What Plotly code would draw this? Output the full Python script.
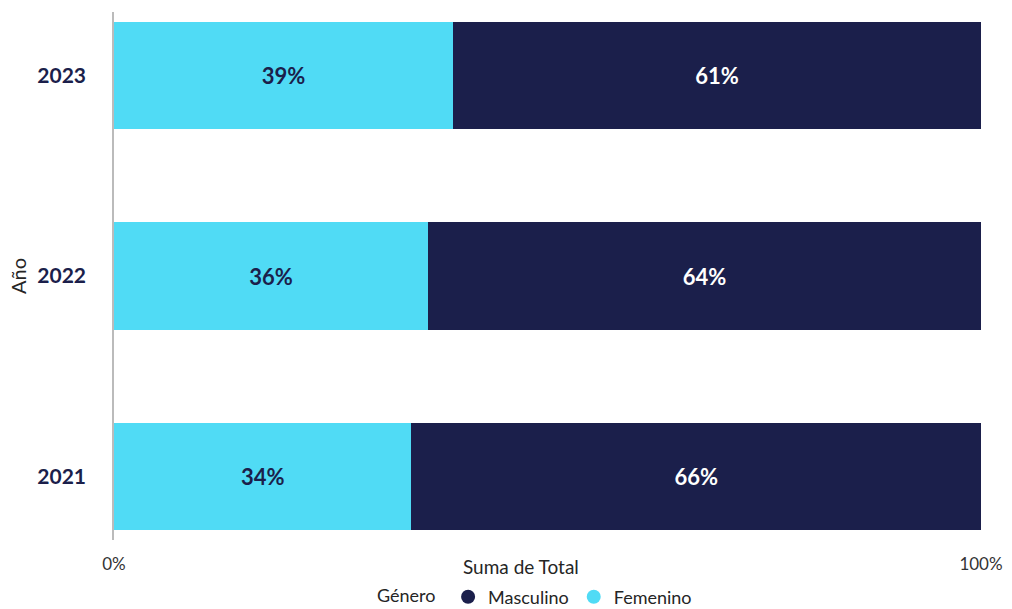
import plotly.graph_objects as go

years = ["2021", "2022", "2023"]
femenino = [34.3, 36.2, 39.1]
masculino = [65.7, 63.8, 60.9]
x_tick_vals = [0, 100]
x_tick_text = ["0%", "100%"]

CYAN = "#50DBF5"
NAVY = "#1B1F4B"
FONT = "Lato, 'Open Sans', sans-serif"
TXT = "#252525"

fig = go.Figure()
fig.add_trace(go.Bar(
    y=years, x=femenino, name="Femenino", orientation="h",
    marker=dict(color=CYAN, line=dict(width=0)), width=0.535,
    text=[f"{v:.0f}%" for v in femenino], textposition="inside",
    insidetextanchor="middle",
    textfont=dict(color=NAVY, size=22, family=FONT, weight="bold"),
    showlegend=False, hoverinfo="skip",
))
fig.add_trace(go.Bar(
    y=years, x=masculino, name="Masculino", orientation="h",
    marker=dict(color=NAVY, line=dict(width=0)), width=0.535,
    text=[f"{v:.0f}%" for v in masculino], textposition="inside",
    insidetextanchor="middle",
    textfont=dict(color="white", size=22, family=FONT, weight="bold"),
    showlegend=False, hoverinfo="skip",
))
# legend entries with circle symbols
for nm, col in [("Masculino", NAVY), ("Femenino", CYAN)]:
    fig.add_trace(go.Scatter(
        x=[None], y=[None], mode="markers", name=nm,
        marker=dict(symbol="circle", size=14, color=col), showlegend=True,
    ))

fig.update_layout(
    barmode="stack",
    width=1012, height=609,
    margin=dict(l=114, r=31, t=12, b=69, autoexpand=False),
    paper_bgcolor="white", plot_bgcolor="white",
    font=dict(family=FONT, color=TXT, size=19),
    showlegend=True,
    legend=dict(
        orientation="h", x=(536 - 114) / 867, xanchor="center", y=-(597 - 540) / 528, yanchor="middle",
        title=dict(text="Género ", font=dict(size=18, color=TXT, family=FONT)),
        font=dict(size=18, color=TXT, family=FONT),
        itemwidth=30, traceorder="normal", tracegroupgap=0,
    ),
    xaxis=dict(
        range=[0, 100], tickvals=x_tick_vals, ticktext=x_tick_text,
        showgrid=False, zeroline=False, showline=False,
        tickfont=dict(size=17, color="#333333", family=FONT),
        ticks="", ticklabelstandoff=12, fixedrange=True, automargin=False,
    ),
    yaxis=dict(
        type="category", categoryorder="array", categoryarray=years,
        range=[-0.3175, 2.3175],
        showgrid=False, zeroline=False, showline=True, linecolor="#BBBBBB", linewidth=1.5,
        tickfont=dict(size=21, color=NAVY, family=FONT, weight="bold"),
        ticks="", ticklabelstandoff=22, automargin=False, fixedrange=True,
    ),
    annotations=[
        dict(text="Suma de Total", xref="paper", yref="paper",
             x=(521 - 114) / 867, y=-(566 - 540) / 528, xanchor="center", yanchor="middle",
             showarrow=False, font=dict(size=19, color=TXT, family=FONT)),
        dict(text="Año", xref="paper", yref="paper",
             x=(18 - 114) / 867, y=(540 - 276) / 528, xanchor="center", yanchor="middle",
             textangle=-90, showarrow=False, font=dict(size=20, color=TXT, family=FONT)),
    ],
)

fig.write_html("out.html", config={"displayModeBar": False},
               post_script="document.body.style.margin='0';document.body.style.overflow='hidden';")
